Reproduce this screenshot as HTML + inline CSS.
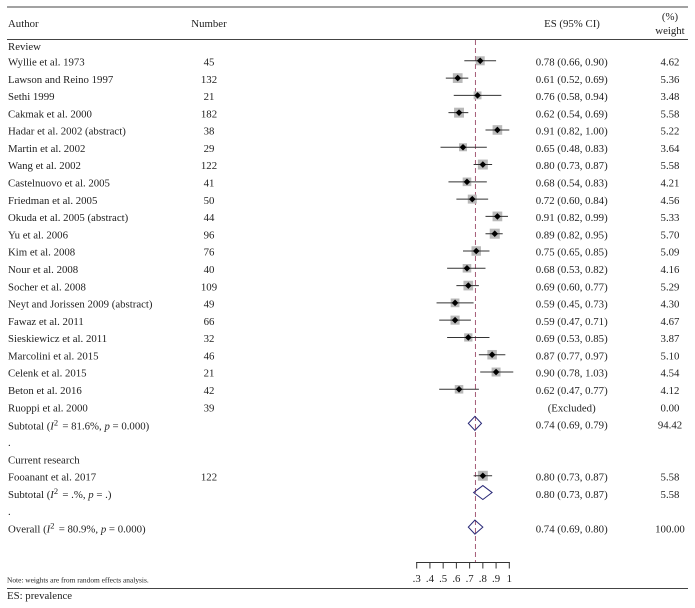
<!DOCTYPE html>
<html>
<head>
<meta charset="utf-8">
<style>
html,body{margin:0;padding:0;background:#fff;width:695px;height:608px;overflow:hidden}
svg{display:block;filter:blur(0.35px)}
text{font-family:"Liberation Serif",serif;font-size:10.8px;fill:#222}
.i{font-style:italic}
</style>
</head>
<body>
<svg id="chart" width="695" height="608" viewBox="0 0 695 608" xmlns="http://www.w3.org/2000/svg">
  <line x1="7" x2="688" y1="7" y2="7" stroke="#444" stroke-width="1"/>
  <line x1="7" x2="688" y1="39.5" y2="39.5" stroke="#444" stroke-width="1"/>
  <line x1="7" x2="688" y1="588.5" y2="588.5" stroke="#444" stroke-width="1"/>
  <text x="8" y="27">Author</text>
  <text x="209" y="27" text-anchor="middle">Number</text>
  <text x="572" y="27" text-anchor="middle">ES (95% CI)</text>
  <text x="670" y="20" text-anchor="middle">(%)</text>
  <text x="670" y="34" text-anchor="middle">weight</text>
  <text x="8" y="50">Review</text>
  <text x="8" y="429.5">Subtotal (<tspan class="i">I</tspan><tspan dy="-4" style="font-size:8.5px">2</tspan><tspan dy="4" dx="1.5"> = 81.6%, </tspan><tspan class="i">p</tspan> = 0.000)</text>
  <text x="8" y="446">.</text>
  <text x="8" y="463.5">Current research</text>
  <text x="8" y="498">Subtotal (<tspan class="i">I</tspan><tspan dy="-4" style="font-size:8.5px">2</tspan><tspan dy="4" dx="1.5"> = .%, </tspan><tspan class="i">p</tspan> = .)</text>
  <text x="8" y="515">.</text>
  <text x="8" y="532.5">Overall (<tspan class="i">I</tspan><tspan dy="-4" style="font-size:8.5px">2</tspan><tspan dy="4" dx="1.5"> = 80.9%, </tspan><tspan class="i">p</tspan> = 0.000)</text>
  <text x="7" y="582.5" style="font-size:7.4px">Note: weights are from random effects analysis.</text>
  <text x="7" y="599">ES: prevalence</text>
  <g id="marks"></g>
</svg>
<script>
var authors = ["Wyllie et al. 1973","Lawson and Reino 1997","Sethi 1999","Cakmak et al. 2000","Hadar et al. 2002 (abstract)","Martin et al. 2002","Wang et al. 2002","Castelnuovo et al. 2005","Friedman et al. 2005","Okuda et al. 2005 (abstract)","Yu et al. 2006","Kim et al. 2008","Nour et al. 2008","Socher et al. 2008","Neyt and Jorissen 2009 (abstract)","Fawaz et al. 2011","Sieskiewicz et al. 2011","Marcolini et al. 2015","Celenk et al. 2015","Beton et al. 2016","Ruoppi et al. 2000","Fooanant et al. 2017"];
var numbers = [45,132,21,182,38,29,122,41,50,44,96,76,40,109,49,66,32,46,21,42,39,122];
var effects = [0.78,0.61,0.76,0.62,0.91,0.65,0.80,0.68,0.72,0.91,0.89,0.75,0.68,0.69,0.59,0.59,0.69,0.87,0.90,0.62,null,0.80];
var lowers = [0.66,0.52,0.58,0.54,0.82,0.48,0.73,0.54,0.60,0.82,0.82,0.65,0.53,0.60,0.45,0.47,0.53,0.77,0.78,0.47,null,0.73];
var uppers = [0.90,0.69,0.94,0.69,1.00,0.83,0.87,0.83,0.84,0.99,0.95,0.85,0.82,0.77,0.73,0.71,0.85,0.97,1.03,0.77,null,0.87];
var weights = ["4.62","5.36","3.48","5.58","5.22","3.64","5.58","4.21","4.56","5.33","5.70","5.09","4.16","5.29","4.30","4.67","3.87","5.10","4.54","4.12","0.00","5.58"];
var summaryEffects = [0.74,0.80,0.74];
var summaryLowers = [0.69,0.73,0.69];
var summaryUppers = [0.79,0.87,0.80];
var summaryWeights = ["94.42","5.58","100.00"];
var axisTicks = [0.3,0.4,0.5,0.6,0.7,0.8,0.9,1];
var tickLabels = [".3",".4",".5",".6",".7",".8",".9","1"];
var referenceValue = 0.74;

function xScale(v){ return 416.7 + (v - 0.3) * 132.3; }
function baseY(row){ return 65.5 + row * 17.29; }
function markY(row){ return baseY(row) - 4.7; }
function ciText(e,l,h){ return e.toFixed(2) + " (" + l.toFixed(2) + ", " + h.toFixed(2) + ")"; }

var NS = "http://www.w3.org/2000/svg";
var root = document.getElementById("marks");
function mk(tag, attrs, txt){
  var el = document.createElementNS(NS, tag);
  for (var k in attrs) el.setAttribute(k, attrs[k]);
  if (txt !== undefined) el.textContent = txt;
  root.appendChild(el);
  return el;
}
var el;

el = mk("line",{x1:xScale(referenceValue)+0.5,x2:xScale(referenceValue)+0.5,y1:40,y2:562,stroke:"#9a4a68","stroke-width":0.9,"stroke-dasharray":"5 3"});



var studyRows = [0,1,2,3,4,5,6,7,8,9,10,11,12,13,14,15,16,17,18,19,20,24];
authors.forEach(function(name,i){
  var row = studyRows[i];
  var b = baseY(row), y = markY(row);
  el = mk("text",{x:8,y:b},name);
  
  
  el = mk("text",{x:209,y:b,"text-anchor":"middle"},String(numbers[i]));
  
  
  el = mk("text",{x:571.7,y:b,"text-anchor":"middle"},effects[i]===null?"(Excluded)":ciText(effects[i],lowers[i],uppers[i]));
  
  
  el = mk("text",{x:670,y:b,"text-anchor":"middle"},weights[i]);
  
  
  if (effects[i]===null) return;
  var cx = xScale(effects[i]);
  var s = Math.sqrt(parseFloat(weights[i])) * 4.2;
  el = mk("rect",{x:cx-s/2,y:y-s/2,width:s,height:s,fill:"#b9b9b9"});
  
  
  el = mk("line",{x1:xScale(lowers[i]),x2:xScale(uppers[i]),y1:y,y2:y,stroke:"#333","stroke-width":1});
  
  
  var d = 3.3;
  el = mk("polygon",{points:(cx-d)+","+y+" "+cx+","+(y-d)+" "+(cx+d)+","+y+" "+cx+","+(y+d),fill:"#000"});
  
  
});

var summaryRows = [21,25,27];
summaryEffects.forEach(function(e,i){
  var row = summaryRows[i];
  var b = baseY(row), y = markY(row) - 0.5, h = 7;
  el = mk("text",{x:571.7,y:b,"text-anchor":"middle"},ciText(e,summaryLowers[i],summaryUppers[i]));
  
  
  el = mk("text",{x:670,y:b,"text-anchor":"middle"},summaryWeights[i]);
  
  
  var l = xScale(summaryLowers[i]), r = xScale(summaryUppers[i]), c = xScale(e);
  el = mk("polygon",{points:l+","+y+" "+c+","+(y-h)+" "+r+","+y+" "+c+","+(y+h),fill:"none",stroke:"#2a2a78","stroke-width":1});
  
  
});

el = mk("line",{x1:xScale(axisTicks[0])-0.5,x2:xScale(axisTicks[axisTicks.length-1])+0.5,y1:562.5,y2:562.5,stroke:"#333","stroke-width":1});


axisTicks.forEach(function(t,i){
  el = mk("line",{x1:xScale(t),x2:xScale(t),y1:562,y2:568.5,stroke:"#333","stroke-width":1});
  
  
  el = mk("text",{x:xScale(t),y:582,"text-anchor":"middle"},tickLabels[i]);
  
  
});
</script>
</body>
</html>
